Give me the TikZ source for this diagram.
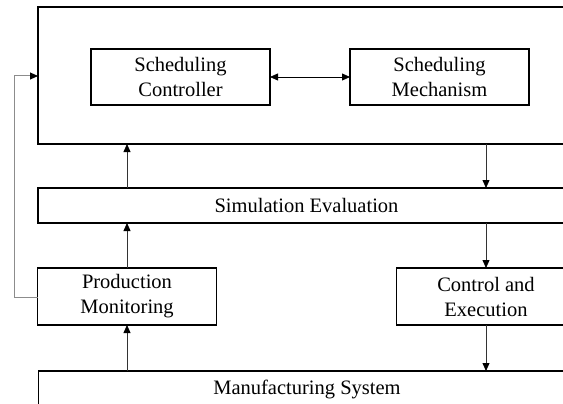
\documentclass[tikz,border=0pt]{standalone}
\usepackage{fontspec}
\setmainfont{Liberation Serif}
\usetikzlibrary{arrows.meta}
\begin{document}
\begin{tikzpicture}[x=1pt,y=-1pt,
  box/.style={draw=black,line width=1.2pt,inner sep=0pt,outer sep=0pt,align=center,
    font=\fontsize{20.5}{25}\selectfont},
  tip/.style={Triangle[length=8pt,width=7pt]},
  arr/.style={line width=0.8pt,draw=black!80,-{Triangle[length=8pt,width=7pt,color=black]}},
  dbl/.style={line width=0.8pt,draw=black,{Triangle[length=8pt,width=7pt]}-{Triangle[length=8pt,width=7pt]}},
  fb/.style={line width=1pt,draw=black!45}]
\clip (0,0) rectangle (563,404);
\fill[white] (0,0) rectangle (563,404);
\node[box,minimum width=537pt,minimum height=137pt] (top) at (306.5,75.5) {};
\node[box,minimum width=179pt,minimum height=56pt] (sc) at (180.5,77) {Scheduling\\Controller};
\node[box,minimum width=179pt,minimum height=56pt] (sm) at (439.5,77) {Scheduling\\Mechanism};
\node[box,minimum width=537pt,minimum height=35pt] (sim) at (306.5,205.5) {Simulation Evaluation};
\node[box,minimum width=179pt,minimum height=57pt] (pm) at (127,296.5) {Production\\Monitoring};
\node[box,minimum width=179pt,minimum height=57pt] (ce) at (486,296.5) {Control and\\Execution};
\node[box,minimum width=537pt,minimum height=36pt] (ms) at (307,389) {Manufacturing System};
\coordinate (fbtop) at (14,76);
\coordinate (fbbot) at (14,297);
\draw[dbl] (sc.east) -- (sm.west);
\draw[arr] (sim.north -| pm.north) -- (top.south -| pm.north);
\draw[arr] (pm.north) -- (sim.south -| pm.north);
\draw[arr] (ms.north -| pm.south) -- (pm.south);
\draw[arr] (top.south -| ce.north) -- (sim.north -| ce.north);
\draw[arr] (sim.south -| ce.north) -- (ce.north);
\draw[arr] (ce.south) -- (ms.north -| ce.south);
\draw[fb] (pm.west |- fbbot) -- (fbbot) -- (fbtop);
\draw[fb,-{Triangle[length=8pt,width=7pt,color=black]}] (fbtop) -- (top.west |- fbtop);
\end{tikzpicture}
\end{document}
